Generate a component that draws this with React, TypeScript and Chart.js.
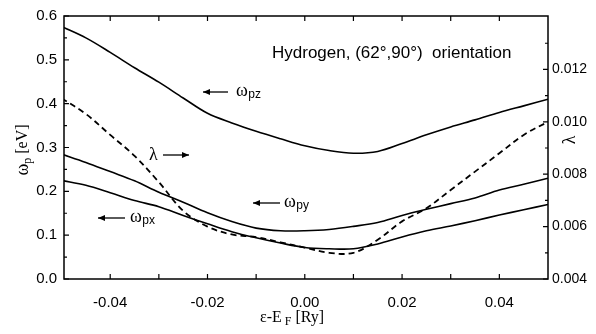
import { useEffect, useRef } from "react";
import { Chart, registerables } from "chart.js";

Chart.register(...registerables);

// ---- data ----
const energyRy = [
  -0.05, -0.045, -0.04, -0.035, -0.03, -0.025, -0.02, -0.015, -0.01, -0.005, 0,
  0.005, 0.01, 0.015, 0.02, 0.025, 0.03, 0.035, 0.04, 0.045, 0.05,
];
const omegaPz = [
  0.576, 0.55, 0.517, 0.482, 0.449, 0.413, 0.378, 0.356, 0.337, 0.32, 0.304,
  0.293, 0.287, 0.291, 0.309, 0.329, 0.347, 0.363, 0.38, 0.395, 0.41,
];
const omegaPy = [
  0.285, 0.266, 0.245, 0.224, 0.198, 0.175, 0.151, 0.131, 0.116, 0.11, 0.11,
  0.113, 0.12, 0.129, 0.145, 0.159, 0.172, 0.185, 0.203, 0.216, 0.23,
];
const omegaPx = [
  0.225, 0.214, 0.197, 0.179, 0.165, 0.145, 0.126, 0.108, 0.094, 0.082, 0.072,
  0.069, 0.069, 0.08, 0.096, 0.11, 0.121, 0.133, 0.146, 0.158, 0.17,
];
const lambdaVals = [
  0.0109, 0.0103, 0.0095, 0.0087, 0.0077, 0.0066, 0.006, 0.0057, 0.0056, 0.0054,
  0.0052, 0.005, 0.005, 0.0055, 0.0062, 0.0067, 0.0074, 0.0081, 0.0088, 0.0095,
  0.01,
];

const xTickValues = [-0.04, -0.02, 0, 0.02, 0.04];
const xTickLabels = ["-0.04", "-0.02", "0.00", "0.02", "0.04"];
const xMinorTicks = [-0.04, -0.03, -0.02, -0.01, 0, 0.01, 0.02, 0.03, 0.04];
const leftTickValues = [0, 0.1, 0.2, 0.3, 0.4, 0.5, 0.6];
const leftTickLabels = ["0.0", "0.1", "0.2", "0.3", "0.4", "0.5", "0.6"];
const leftMinorTicks = [0.05, 0.15, 0.25, 0.35, 0.45, 0.55];
const rightTickValues = [0.004, 0.006, 0.008, 0.01, 0.012];
const rightTickLabels = ["0.004", "0.006", "0.008", "0.010", "0.012"];
const rightMinorTicks = [0.005, 0.007, 0.009, 0.011, 0.013];

const toPoints = (ys: number[]) => energyRy.map((x, i) => ({ x, y: ys[i] }));

const SANS = "'Liberation Sans', Arial, sans-serif";
const SERIF = "'Liberation Serif', 'Times New Roman', serif";

function drawSub(
  ctx: CanvasRenderingContext2D,
  x: number,
  y: number,
  main: string,
  sub: string,
  mainFont: string,
  subFont: string,
  subDy: number
) {
  ctx.font = mainFont;
  ctx.textBaseline = "middle";
  ctx.textAlign = "left";
  ctx.fillText(main, x, y);
  const w = ctx.measureText(main).width;
  ctx.font = subFont;
  ctx.fillText(sub, x + w + 0.5, y + subDy);
  return x + w + 0.5 + ctx.measureText(sub).width;
}

function arrow(ctx: CanvasRenderingContext2D, x1: number, x2: number, y: number) {
  ctx.beginPath();
  ctx.moveTo(x1, y);
  ctx.lineTo(x2, y);
  ctx.lineWidth = 1.3;
  ctx.stroke();
  const dir = x2 > x1 ? 1 : -1;
  ctx.beginPath();
  ctx.moveTo(x2, y);
  ctx.lineTo(x2 - dir * 7, y - 3);
  ctx.lineTo(x2 - dir * 7, y + 3);
  ctx.closePath();
  ctx.fill();
}

const decorPlugin = {
  id: "decor",
  beforeDraw(chart: any) {
    const ctx = chart.ctx;
    ctx.save();
    ctx.fillStyle = "#fff";
    ctx.fillRect(0, 0, chart.width, chart.height);
    ctx.restore();
  },
  afterDraw(chart: any) {
    const ctx: CanvasRenderingContext2D = chart.ctx;
    const a = chart.chartArea;
    const sx = chart.scales.x;
    const sy = chart.scales.y;
    const sy2 = chart.scales.y2;
    ctx.save();
    ctx.strokeStyle = "#000";
    ctx.fillStyle = "#000";
    ctx.lineWidth = 1.5;
    ctx.strokeRect(a.left, a.top, a.right - a.left, a.bottom - a.top);

    ctx.lineWidth = 1.2;
    ctx.beginPath();
    xMinorTicks.forEach((v) => {
      const px = sx.getPixelForValue(v);
      ctx.moveTo(px, a.bottom);
      ctx.lineTo(px, a.bottom - 5);
      ctx.moveTo(px, a.top);
      ctx.lineTo(px, a.top + 5);
    });
    leftTickValues.forEach((v) => {
      const py = sy.getPixelForValue(v);
      ctx.moveTo(a.left, py);
      ctx.lineTo(a.left + 5, py);
    });
    leftMinorTicks.forEach((v) => {
      const py = sy.getPixelForValue(v);
      ctx.moveTo(a.left, py);
      ctx.lineTo(a.left + 3, py);
    });
    rightTickValues.forEach((v) => {
      const py = sy2.getPixelForValue(v);
      ctx.moveTo(a.right, py);
      ctx.lineTo(a.right - 5, py);
    });
    rightMinorTicks.forEach((v) => {
      const py = sy2.getPixelForValue(v);
      ctx.moveTo(a.right, py);
      ctx.lineTo(a.right - 3, py);
    });
    ctx.stroke();

    // annotation text
    ctx.font = `17px ${SANS}`;
    ctx.textBaseline = "alphabetic";
    ctx.textAlign = "left";
    ctx.fillText("Hydrogen, (62°,90°)  orientation", 272, 58);

    // omega labels with arrows
    arrow(ctx, 228, 203, 92);
    drawSub(ctx, 236, 91, "ω", "pz", `18px ${SERIF}`, `12px ${SANS}`, 4);

    ctx.font = `18px ${SERIF}`;
    ctx.textBaseline = "middle";
    ctx.fillText("λ", 149, 155);
    arrow(ctx, 163, 189, 155);

    arrow(ctx, 280, 253, 203);
    drawSub(ctx, 284, 202, "ω", "py", `18px ${SERIF}`, `12px ${SANS}`, 4);

    arrow(ctx, 125, 98, 218);
    drawSub(ctx, 130, 217, "ω", "px", `18px ${SERIF}`, `12px ${SANS}`, 4);

    // left axis title
    ctx.save();
    ctx.translate(23, 150);
    ctx.rotate(-Math.PI / 2);
    ctx.font = `18px ${SERIF}`;
    const w1 = ctx.measureText("ω").width;
    ctx.font = `12px ${SERIF}`;
    const w2 = ctx.measureText("p").width;
    ctx.font = `16px ${SERIF}`;
    const w3 = ctx.measureText(" [eV]").width;
    const tot = w1 + w2 + w3;
    let cx = -tot / 2;
    ctx.textBaseline = "middle";
    ctx.font = `18px ${SERIF}`;
    ctx.fillText("ω", cx, 0);
    cx += w1;
    ctx.font = `12px ${SERIF}`;
    ctx.fillText("p", cx, 5);
    cx += w2;
    ctx.font = `16px ${SERIF}`;
    ctx.fillText(" [eV]", cx, 0);
    ctx.restore();

    // right axis title
    ctx.save();
    ctx.translate(570, 140);
    ctx.rotate(-Math.PI / 2);
    ctx.font = `18px ${SERIF}`;
    ctx.textAlign = "center";
    ctx.textBaseline = "middle";
    ctx.fillText("λ", 0, 0);
    ctx.restore();

    // bottom title
    ctx.font = `16px ${SERIF}`;
    ctx.textBaseline = "middle";
    const t1 = "ε-E";
    const t3 = " [Ry]";
    const wA = ctx.measureText(t1).width;
    const wC = ctx.measureText(t3).width;
    ctx.font = `12px ${SERIF}`;
    const wB = ctx.measureText(" F").width;
    let bx = 292 - (wA + wB + wC) / 2;
    ctx.font = `16px ${SERIF}`;
    ctx.fillText(t1, bx, 318);
    bx += wA;
    ctx.font = `12px ${SERIF}`;
    ctx.fillText(" F", bx, 322);
    bx += wB;
    ctx.font = `16px ${SERIF}`;
    ctx.fillText(t3, bx, 318);

    ctx.restore();
  },
};

export default function App() {
  const ref = useRef<HTMLCanvasElement | null>(null);
  useEffect(() => {
    document.body.style.margin = "0";
    const canvas = ref.current!;
    const solid = (label: string, ys: number[]) => ({
      label,
      data: toPoints(ys),
      yAxisID: "y",
      borderColor: "#000",
      borderWidth: 1.6,
      pointRadius: 0,
      fill: false,
      tension: 0.35,
    });
    const chart = new Chart(canvas, {
      type: "line",
      data: {
        datasets: [
          solid("ωpz", omegaPz),
          solid("ωpy", omegaPy),
          solid("ωpx", omegaPx),
          {
            label: "λ",
            data: toPoints(lambdaVals),
            yAxisID: "y2",
            borderColor: "#000",
            borderWidth: 1.8,
            borderDash: [6, 4],
            pointRadius: 0,
            fill: false,
            tension: 0.35,
          },
        ],
      },
      options: {
        animation: false,
        responsive: false,
        layout: { padding: { top: 13, left: 0, right: 0, bottom: 0 } },
        plugins: { legend: { display: false }, tooltip: { enabled: false } },
        scales: {
          x: {
            type: "linear",
            position: "bottom",
            min: -0.0495,
            max: 0.05,
            grid: { display: false, drawTicks: false },
            border: { display: false },
            afterBuildTicks: (s: any) => {
              s.ticks = xTickValues.map((v) => ({ value: v }));
            },
            afterFit: (s: any) => {
              s.height = 55;
            },
            ticks: {
              autoSkip: false,
              maxRotation: 0,
              padding: 15,
              color: "#000",
              font: { family: SANS, size: 15 },
              callback: (v: any) => {
                const i = xTickValues.findIndex((t) => Math.abs(t - v) < 1e-9);
                return i >= 0 ? xTickLabels[i] : "";
              },
            },
          },
          y: {
            type: "linear",
            position: "left",
            min: 0,
            max: 0.6,
            grid: { display: false, drawTicks: false },
            border: { display: false },
            afterBuildTicks: (s: any) => {
              s.ticks = leftTickValues.map((v) => ({ value: v }));
            },
            afterFit: (s: any) => {
              s.width = 64;
            },
            ticks: {
              padding: 7,
              color: "#000",
              font: { family: SANS, size: 15 },
              callback: (v: any) => {
                const i = leftTickValues.findIndex((t) => Math.abs(t - v) < 1e-9);
                return i >= 0 ? leftTickLabels[i] : "";
              },
            },
          },
          y2: {
            type: "linear",
            position: "right",
            min: 0.004,
            max: 0.01404,
            grid: { display: false, drawTicks: false },
            border: { display: false },
            afterBuildTicks: (s: any) => {
              s.ticks = rightTickValues.map((v) => ({ value: v }));
            },
            afterFit: (s: any) => {
              s.width = 48;
            },
            ticks: {
              padding: 4,
              color: "#000",
              font: { family: SANS, size: 14 },
              callback: (v: any) => {
                const i = rightTickValues.findIndex((t) => Math.abs(t - v) < 1e-9);
                return i >= 0 ? rightTickLabels[i] : "";
              },
            },
          },
        },
      },
      plugins: [decorPlugin],
    });
    return () => chart.destroy();
  }, []);
  return <canvas ref={ref} width={596} height={334} style={{ display: "block" }} />;
}
